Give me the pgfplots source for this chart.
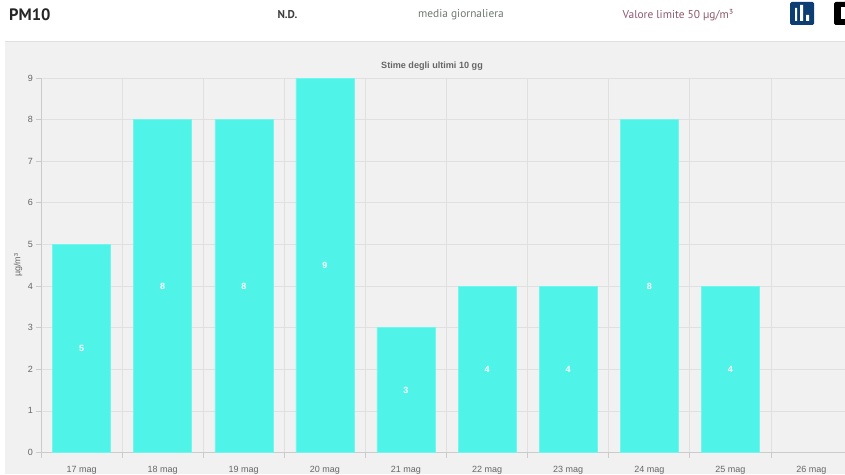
\documentclass[border=0pt]{standalone}
\usepackage{pgfplots}
\usepackage{fontspec}
\pgfplotsset{compat=1.18}
\setmainfont{Liberation Sans}
\newfontfamily\headfont{PT Sans}
\definecolor{panel}{HTML}{F1F1F1}
\definecolor{gridc}{HTML}{E0E0E0}
\definecolor{axisc}{HTML}{CBCBCB}
\definecolor{txt}{HTML}{666666}
\definecolor{barc}{HTML}{4FF3E8}
\definecolor{medc}{HTML}{6F7A72}
\definecolor{limc}{HTML}{8E5A6E}
\begin{document}
\begin{tikzpicture}[x=1pt,y=1pt]
\path[use as bounding box,fill=white] (0,0) rectangle (845,474);
\fill[panel] (5,0) rectangle (845,433);
\draw[draw=gridc,line width=0.8pt] (5,433) -- (845,433);
\node[anchor=west,font=\headfont\fontsize{16.5}{18}\selectfont\bfseries,text=black!85] at (5.7,459) {PM10};
\node[font=\headfont\fontsize{11.3}{12}\selectfont\bfseries,text=black!75] at (287.5,459) {N.D.};
\node[font=\headfont\fontsize{11.4}{14}\selectfont,text=medc] at (461,459) {media giornaliera};
\node[font=\headfont\fontsize{11.4}{14}\selectfont,text=limc] at (678,459) {Valore limite 50 µg/m³};
\fill[rounded corners=1.5pt,fill={rgb,255:red,12;green,62;blue,115}] (790,449) rectangle (814,472);
\fill[white] (795,453) rectangle (797,466) (800,453) rectangle (803,469) (806,453) rectangle (809,459);
\fill[rounded corners=1.5pt,black] (834,449) rectangle (850,472);
\fill[white] (841,455) rectangle (845,467);
\begin{axis}[
  at={(41pt,21.5pt)}, anchor=south west,
  scale only axis, width=811pt, height=374.5pt,
  clip=false,
  xmin=-0.5, xmax=9.5, ymin=0, ymax=9,
  xtick={0,1,2,3,4,5,6,7,8,9},
  xticklabels={17 mag,18 mag,19 mag,20 mag,21 mag,22 mag,23 mag,24 mag,25 mag,26 mag},
  minor xtick={-0.5,0.5,1.5,2.5,3.5,4.5,5.5,6.5,7.5,8.5,9.5},
  ytick={0,1,2,3,4,5,6,7,8,9},
  xmajorgrids=false, xminorgrids=true, ymajorgrids=true,
  grid style={gridc,line width=0.7pt},
  minor grid style={gridc,line width=0.7pt},
  axis x line*=bottom, axis y line*=left,
  axis line style={axisc,line width=0.8pt,-},
  tick align=outside,
  major tick length=5pt, minor tick length=5pt,
  major x tick style={draw=none},
  minor x tick style={draw=axisc,line width=0.7pt},
  ytick style={axisc,line width=0.7pt},
  tick label style={font=\fontsize{9}{10}\selectfont,text=txt},
  xticklabel style={yshift=-5pt},
  yticklabel style={xshift=0.5pt},
  /pgf/number format/assume math mode=true,
  ylabel={µg/m³},
  ylabel style={font=\fontsize{9}{10}\selectfont,text=txt,at={(axis description cs:0,0.5)},anchor=center,xshift=0pt,yshift=23pt},
  title={\textbf{Stime degli ultimi 10 gg}},
  title style={font=\fontsize{9.1}{10}\selectfont,text=txt,at={(391pt,374.5pt)},anchor=center,yshift=6pt},
]
\addplot[ybar, bar width=58pt, draw=barc!80!white, fill=barc, line width=0.5pt,
  visualization depends on={rawy \as \ry},
  nodes near coords,
  every node near coord/.append style={anchor=center,text=white,font=\fontsize{9}{10}\selectfont\bfseries,yshift={-\ry*20.8}},
  /pgf/number format/assume math mode=true,
] coordinates {(0,5) (1,8) (2,8) (3,9) (4,3) (5,4) (6,4) (7,8) (8,4)};
\end{axis}
\end{tikzpicture}
\end{document}
